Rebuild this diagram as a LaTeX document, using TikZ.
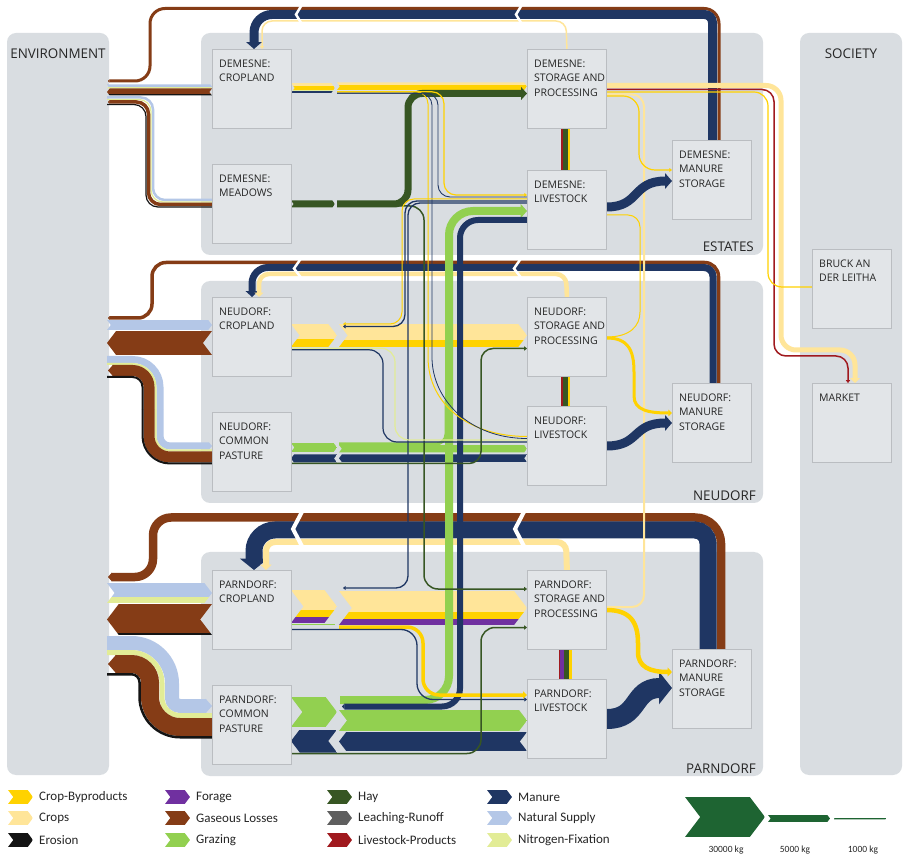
\documentclass[tikz,border=0pt]{standalone}
\usepackage{fontspec}
\setmainfont{Open Sans}
\newfontfamily\legfont{Carlito}
\usetikzlibrary{arrows.meta,calc}

\definecolor{cbyp}{RGB}{255,210,0}
\definecolor{crop}{RGB}{255,229,153}
\definecolor{eros}{RGB}{20,20,20}
\definecolor{forg}{RGB}{112,48,160}
\definecolor{gasl}{RGB}{133,60,22}
\definecolor{graz}{RGB}{146,208,80}
\definecolor{hay}{RGB}{55,86,35}
\definecolor{leach}{RGB}{95,95,95}
\definecolor{lprod}{RGB}{160,25,30}
\definecolor{manu}{RGB}{31,54,99}
\definecolor{natsup}{RGB}{180,199,231}
\definecolor{nfix}{RGB}{226,236,150}
\definecolor{scgreen}{RGB}{30,100,50}
\definecolor{panel}{RGB}{217,221,225}
\definecolor{boxfill}{RGB}{226,229,232}
\definecolor{boxline}{RGB}{186,189,193}
\definecolor{txt}{RGB}{38,38,38}

\pgfdeclarelayer{panels}
\pgfdeclarelayer{flows}
\pgfsetlayers{panels,flows,main}

% straight sankey piece: x-from, x-to, y-top, height, colour/width list
\newcommand\flowseg[5]{%
  \begin{scope}
    \pgfmathsetmacro\fsdir{ifthenelse((#2)>(#1),1,-1)}
    \pgfmathsetmacro\fsk{0.38*(#4)*\fsdir}
    \clip (#1,#3) -- ({#2-(\fsk)},#3) -- (#2,{#3+0.5*(#4)}) -- ({#2-(\fsk)},{#3+#4})
      -- (#1,{#3+#4}) -- ({#1+(\fsk)},{#3+0.5*(#4)}) -- cycle;
    \foreach \fscol/\fswid [remember=\fsyb as \fsya (initially #3),
        evaluate=\fswid as \fsyb using \fsya+\fswid] in {#5}
      \fill[fill=\fscol] (#1,\fsya) rectangle (#2,\fsyb+0.3);
  \end{scope}}

\begin{document}
\begin{tikzpicture}[x=1pt,y=1pt,yscale=-1,
  unitbox/.style={draw=boxline,fill=boxfill,line width=0.8pt,minimum width=79pt,
    minimum height=79pt,anchor=north west,inner sep=0pt},
  lbl/.style={anchor=north west,align=left,inner xsep=7pt,inner ysep=10.5pt,
    font=\fontsize{10.5}{14.5}\selectfont,text=txt},
  ptitle/.style={font=\fontsize{13.4}{16}\selectfont,text=txt,inner sep=0pt},
  legtext/.style={anchor=west,font=\legfont\fontsize{13}{15}\selectfont,text=txt,inner sep=0pt},
  scaletext/.style={font=\legfont\fontsize{9.5}{11}\selectfont,text=txt,inner sep=0pt},
  flowtip/.style={-{Triangle[width=2pt 1.5,length=2pt 0.55]}},
  flowpt/.style={-{Triangle[width=0pt 1,length=0pt 0.45]}}]
\useasboundingbox (0,0) rectangle (903,858);

%Panels
\begin{pgfonlayer}{panels}
\fill[white] (0,0) rectangle (903,858);
\fill[panel,rounded corners=9] (7,33) rectangle (109,775);
\fill[panel,rounded corners=9] (800,33) rectangle (902,775);
\fill[panel,rounded corners=9] (201,33) rectangle (763,255);
\fill[panel,rounded corners=9] (201,281) rectangle (763,503);
\fill[panel,rounded corners=9] (201,552) rectangle (763,776);
\end{pgfonlayer}

\node[ptitle,anchor=base] (envtitle) at (58,58.5) {ENVIRONMENT};
\node[ptitle,anchor=base] (soctitle) at (851,59) {SOCIETY};
\node[ptitle,anchor=base east] (esttitle) at (754,252) {ESTATES};
\node[ptitle,anchor=base east] (neutitle) at (756,501) {NEUDORF};
\node[ptitle,anchor=base east] (partitle) at (756,773) {PARNDORF};

%Units: estates
\node[unitbox,label={[lbl]north west:{DEMESNE:\\CROPLAND}}] (dcrop) at (212,49) {};
\node[unitbox,label={[lbl]north west:{DEMESNE:\\MEADOWS}}] (dmead) at (212,164) {};
\node[unitbox,label={[lbl]north west:{DEMESNE:\\STORAGE AND\\PROCESSING}}] (dstor) at (527,49) {};
\node[unitbox,label={[lbl]north west:{DEMESNE:\\LIVESTOCK}}] (dlive) at (527,170) {};
\node[unitbox,label={[lbl]north west:{DEMESNE:\\MANURE\\STORAGE}}] (dmanu) at (672,140) {};
%Units: neudorf
\node[unitbox,label={[lbl]north west:{NEUDORF:\\CROPLAND}}] (ncrop) at (212,297) {};
\node[unitbox,label={[lbl]north west:{NEUDORF:\\COMMON\\PASTURE}}] (npast) at (212,412) {};
\node[unitbox,label={[lbl]north west:{NEUDORF:\\STORAGE AND\\PROCESSING}}] (nstor) at (527,297) {};
\node[unitbox,label={[lbl]north west:{NEUDORF:\\LIVESTOCK}}] (nlive) at (527,406) {};
\node[unitbox,label={[lbl]north west:{NEUDORF:\\MANURE\\STORAGE}}] (nmanu) at (672,383) {};
%Units: parndorf
\node[unitbox,label={[lbl]north west:{PARNDORF:\\CROPLAND}}] (pcrop) at (212,570) {};
\node[unitbox,label={[lbl]north west:{PARNDORF:\\COMMON\\PASTURE}}] (ppast) at (212,685) {};
\node[unitbox,label={[lbl]north west:{PARNDORF:\\STORAGE AND\\PROCESSING}}] (pstor) at (527,570) {};
\node[unitbox,label={[lbl]north west:{PARNDORF:\\LIVESTOCK}}] (plive) at (527,679) {};
\node[unitbox,label={[lbl]north west:{PARNDORF:\\MANURE\\STORAGE}}] (pmanu) at (672,649) {};
%Units: society
\node[unitbox,label={[lbl]north west:{BRUCK AN\\DER LEITHA}}] (bruck) at (812,249) {};
\node[unitbox,label={[lbl]north west:{MARKET}}] (market) at (812,383) {};

\begin{pgfonlayer}{flows}
%Flow: environment <-> demesne
\flowseg{107}{212}{84.5}{4}{natsup/2.5,nfix/1.5}
\flowseg{212}{107}{88.5}{7}{gasl/5.5,eros/1.5}
\draw[natsup,line width=2.5,rounded corners=12] (107,97.5) -- (153,97.5) -- (153,200) -- (dmead.west |- 0,200);
\draw[nfix,line width=1.2,rounded corners=12] (107,99.5) -- (151,99.5) -- (151,202) -- (dmead.west |- 0,202);
\draw[gasl,line width=3.5,rounded corners=12,flowpt] (dmead.west |- 0,204.5) -- (148.5,204.5) -- (148.5,102) -- (108,102);
\draw[eros,line width=1.2,rounded corners=12] (dmead.west |- 0,207) -- (146,207) -- (146,104.5) -- (107,104.5);

%Flow: environment <-> neudorf
\flowseg{107}{212}{320}{10}{natsup/10}
\flowseg{212}{107}{331}{24}{gasl/24}
\draw[natsup,line width=7,rounded corners=27.5] (107,359.5) -- (160,359.5) -- (160,410);
\draw[natsup,line width=7,rounded corners=10,flowpt] (160,410) -- (160,446) -- (npast.west |- 0,446);
\draw[nfix,line width=2,rounded corners=23] (107,364) -- (155.5,364) -- (155.5,410);
\draw[nfix,line width=2,rounded corners=14.5] (155.5,410) -- (155.5,450.5) -- (npast.west |- 0,450.5);
\draw[gasl,line width=11,rounded corners=21] (npast.west |- 0,457) -- (149,457) -- (149,410);
\draw[gasl,line width=11,rounded corners=16.5,flowpt] (149,410) -- (149,370.5) -- (108,370.5);
\draw[eros,line width=2,rounded corners=27.5] (npast.west |- 0,463.5) -- (142.5,463.5) -- (142.5,410);
\draw[eros,line width=2,rounded corners=10] (142.5,410) -- (142.5,377) -- (107,377);

%Flow: environment <-> parndorf
\flowseg{107}{212}{583}{20}{natsup/14,nfix/6}
\flowseg{212}{107}{604}{31}{gasl/28.5,eros/2.5}
\draw[natsup,line width=14,rounded corners=40.5] (107,643) -- (172,643) -- (172,690);
\draw[natsup,line width=14,rounded corners=8,flowpt] (172,690) -- (172,706) -- (ppast.west |- 0,706);
\draw[nfix,line width=5,rounded corners=30.5] (107,652.5) -- (162,652.5) -- (162,690);
\draw[nfix,line width=5,rounded corners=18] (162,690) -- (162,715.5) -- (ppast.west |- 0,715.5);
\draw[gasl,line width=18,rounded corners=30] (ppast.west |- 0,727) -- (150,727) -- (150,690);
\draw[gasl,line width=18,rounded corners=18.5,flowpt] (150,690) -- (150,664) -- (108,664);
\draw[eros,line width=2.5,rounded corners=40.5] (ppast.west |- 0,737.25) -- (139.5,737.25) -- (139.5,690);
\draw[eros,line width=2.5,rounded corners=8] (139.5,690) -- (139.5,674.25) -- (107,674.25);

%Loop: demesne manure back
\draw[crop,line width=1.5,rounded corners=10,flowtip] (dstor.north |- 0,49) -- (566,21) -- (262,21) -- (262,49);
\draw[gasl,line width=3,rounded corners=15,flowpt] (719,140) -- (719,8.5) -- (150,8.5) -- (150,81) -- (108,81);
\draw[manu,line width=9,rounded corners=8] (712.5,140) -- (712.5,14.5) -- (500,14.5);
\draw[manu,line width=9,rounded corners=18,flowtip] (500,14.5) -- (254,14.5) -- (254,49);
\draw[white,line width=2.5] (303,3) -- (296,14.5) -- (303,26);
\draw[white,line width=2.5] (523,3) -- (516,14.5) -- (523,26);

%Loop: neudorf manure back
\draw[gasl,line width=3.5,rounded corners=14,flowpt] (718.5,383) -- (718.5,262.5) -- (152,262.5) -- (152,318) -- (108,318);
\draw[manu,line width=7,rounded corners=9] (713,383) -- (713,267.5) -- (500,267.5);
\draw[manu,line width=7,rounded corners=16,flowtip] (500,267.5) -- (252,267.5) -- (252,297);
\draw[crop,line width=4.5,rounded corners=10,flowtip] (nstor.north |- 0,297) -- (566,274) -- (259,274) -- (259,297);
\draw[white,line width=2.5] (302,257) -- (294,268.5) -- (302,279);
\draw[white,line width=2.5] (522,257) -- (514,268.5) -- (522,279);

%Loop: parndorf manure back
\draw[gasl,line width=8.5,rounded corners=26] (721,649) -- (721,517.5) -- (450,517.5);
\draw[gasl,line width=8.5,rounded corners=18,flowpt] (450,517.5) -- (153,517.5) -- (153,577) -- (108,577);
\draw[manu,line width=17,rounded corners=13] (708,649) -- (708,530) -- (450,530);
\draw[manu,line width=17,rounded corners=21,flowtip] (450,530) -- (254,530) -- (254,570);
\draw[crop,line width=6,rounded corners=9,flowtip] (pstor.north |- 0,570) -- (566,542) -- (266,542) -- (266,570);
\draw[white,line width=4] (304,508) -- (293,529) -- (304,550);
\draw[white,line width=4] (526,508) -- (515,529) -- (526,550);

%Bands: cropland and pasture outputs
\flowseg{291}{335}{83}{10}{crop/3,cbyp/4,nfix/1.5,manu/1.5}
\flowseg{337}{527}{82.5}{7.5}{crop/3,cbyp/4.5}
\flowseg{291}{335}{200.5}{7}{hay/7}
\draw[hay,line width=7,rounded corners=14,flowtip] (337,204) -- (408,204) -- (408,93.5) -- (dstor.west |- 0,93.5);
\flowseg{291}{337}{324}{23}{crop/15,cbyp/8}
\flowseg{339}{527}{324}{23}{crop/16,cbyp/7}
\flowseg{291}{337}{443}{9}{graz/9}
\flowseg{337}{291}{454.5}{8}{manu/8}
\draw[graz,line width=3,rounded corners=10] (339,444) -- (446,444) -- (446,400);
\flowseg{339}{527}{445}{7.5}{graz/7.5}
\flowseg{527}{339}{454.5}{7.5}{manu/7.5}
\flowseg{291}{337}{590}{33}{crop/20,cbyp/7,forg/6}
\draw[graz,line width=1.5] (291,624.5) -- (335,624.5);
\flowseg{339}{527}{591}{34}{crop/21,cbyp/7,forg/6}
\flowseg{291}{337}{697}{30}{graz/30}
\flowseg{337}{291}{729.5}{23}{manu/23}
\flowseg{339}{527}{710}{21}{graz/21}
\flowseg{527}{339}{732}{19}{manu/19}

%Grazing up, manure down
\draw[graz,line width=8,rounded corners=24,flowtip] (340,700) -- (449,700) -- (449,211) -- (dlive.west |- 0,211);
\draw[manu,line width=6,rounded corners=18,flowpt] (dlive.west |- 0,220) -- (460,220) -- (460,706.5) -- (342,706.5);

%Thin flows
\draw[cbyp,line width=1.2,rounded corners=12,flowtip] (337,91.8) -- (444,91.8) -- (444,195) -- (dlive.west |- 0,195);
\draw[manu,line width=0.9,rounded corners=12] (337,93.2) -- (438,93.2) -- (438,197) -- (dlive.west |- 0,197);
\draw[cbyp,line width=1,rounded corners=12] (337,91.8) -- (428,91.8) -- (428,345) .. controls (428,405) and (470,436.5) .. (nlive.west |- 0,436.5);
\draw[manu,line width=0.8,rounded corners=12] (337,93.3) -- (432,93.3) -- (432,345) .. controls (432,400) and (470,438.5) .. (nlive.west |- 0,438.5);
\draw[hay,line width=1.5,rounded corners=14,flowtip] (337,206) -- (424,206) -- (424,589) -- (pstor.west |- 0,589);
\draw[cbyp,line width=1,rounded corners=12,flowtip] (dlive.west |- 0,199) -- (402,199) -- (402,324) -- (343,324);
\draw[manu,line width=1.3,rounded corners=12,flowtip] (dlive.west |- 0,201) -- (405,201) -- (405,326.5) -- (343,326.5);
\draw[manu,line width=1.3,rounded corners=12,flowtip] (dlive.west |- 0,203) -- (408,203) -- (408,588) -- (343,588);
\draw[nfix,line width=1.2,rounded corners=14] (ncrop.east |- 0,348.2) -- (395,348.2) -- (395,440) -- (nlive.west |- 0,440);
\draw[manu,line width=1.2,rounded corners=14] (ncrop.east |- 0,349.8) -- (383,349.8) -- (383,442) -- (nlive.west |- 0,442);
\draw[hay,line width=1.5,rounded corners=12,flowtip] (npast.east |- 0,463.5) -- (481,463.5) -- (481,348.5) -- (nstor.west |- 0,348.5);
\draw[cbyp,line width=3.5,rounded corners=16,flowtip] (339,627) -- (423,627) -- (423,695) -- (plive.west |- 0,695);
\draw[manu,line width=1.3,rounded corners=16,flowtip] (pcrop.east |- 0,629.5) -- (417,629.5) -- (417,699.5) -- (plive.west |- 0,699.5);
\draw[hay,line width=1.5,rounded corners=14,flowtip] (ppast.east |- 0,753.5) -- (481,753.5) -- (481,627.5) -- (pstor.west |- 0,627.5);

%Storage -> livestock
\fill[lprod] (560.5,128) rectangle (562.5,170);
\fill[hay] (562.5,128) rectangle (568,170);
\fill[cbyp] (568,128) rectangle (570,170);
\fill[lprod] (560.5,376) rectangle (562.5,406);
\fill[hay] (562.5,376) rectangle (568,406);
\fill[cbyp] (568,376) rectangle (570,406);
\fill[lprod] (558.5,649) rectangle (560,679);
\fill[forg] (560,649) rectangle (563.5,679);
\fill[hay] (563.5,649) rectangle (569,679);
\fill[cbyp] (569,649) rectangle (571.5,679);

%Yellow returns on the right
\draw[crop,line width=2,rounded corners=12] (dstor.east |- 0,94.5) -- (644,94.5) -- (644,607) -- (pstor.east |- 0,607);
\draw[cbyp,line width=1,rounded corners=12] (dlive.east |- 0,215) -- (640,215) -- (640,300) .. controls (640,326) and (630,337) .. (nstor.east |- 0,337);

%Livestock and storage -> manure storage
\draw[manu,line width=9,flowtip] (dlive.east |- 0,207) .. controls (640,207) and (632,181) .. (dmanu.west |- 0,181);
\draw[cbyp,line width=1.2,rounded corners=16,flowtip] (dstor.east |- 0,96) -- (639,96) -- (639,170) -- (dmanu.west |- 0,170);
\draw[manu,line width=9,flowtip] (nlive.east |- 0,446) .. controls (640,446) and (632,423) .. (nmanu.west |- 0,423);
\draw[cbyp,line width=3,flowtip] (nstor.east |- 0,338) .. controls (628,338) and (634,350) .. (634,372) -- (634,396) .. controls (634,410) and (648,413) .. (nmanu.west |- 0,413);
\draw[manu,line width=20,flowtip] (plive.east |- 0,719) .. controls (640,719) and (632,688) .. (pmanu.west |- 0,688);
\draw[cbyp,line width=4.5,flowtip] (pstor.east |- 0,610) .. controls (630,610) and (638,622) .. (638,643) -- (638,652) .. controls (638,667) and (650,672) .. (pmanu.west |- 0,672);

%Demesne storage -> society
\draw[crop,line width=5,rounded corners=15,flowtip] (dstor.east |- 0,85.5) -- (781,85.5) -- (781,350) -- (855,350) -- (855,383);
\draw[lprod,line width=1.5,rounded corners=12,flowtip] (dstor.east |- 0,89.5) -- (774,89.5) -- (774,356) -- (848,356) -- (848,383);
\draw[cbyp,line width=1.2,rounded corners=14] (dstor.east |- 0,92) -- (768,92) -- (768,287) -- (bruck.west |- 0,287);
\end{pgfonlayer}

%Legend
\foreach \lx/\ly/\lc/\lt [count=\li] in {8/797/cbyp/Crop-Byproducts,8/818/crop/Crops,8/840/eros/Erosion,
    165/797/forg/Forage,165/818/gasl/Gaseous Losses,165/840/graz/Grazing,
    327/797/hay/Hay,327/818/leach/Leaching-Runoff,327/840/lprod/Livestock-Products,
    487/797/manu/Manure,487/818/natsup/Natural Supply,487/840/nfix/Nitrogen-Fixation}{
  \flowseg{\lx}{\lx+25}{\ly-7}{14}{\lc/14}
  \node[legtext] (leg\li) at (\lx+31,\ly) {\lt};
}
\flowseg{685}{765}{797}{40}{scgreen/40}
\flowseg{768}{830}{815}{7}{scgreen/7}
\flowseg{834}{886}{817.8}{1.5}{scgreen/1.5}
\node[scaletext] (kg30) at (726,850) {30000 kg};
\node[scaletext] (kg5) at (795,850) {5000 kg};
\node[scaletext] (kg1) at (863,850) {1000 kg};
\end{tikzpicture}
\end{document}
